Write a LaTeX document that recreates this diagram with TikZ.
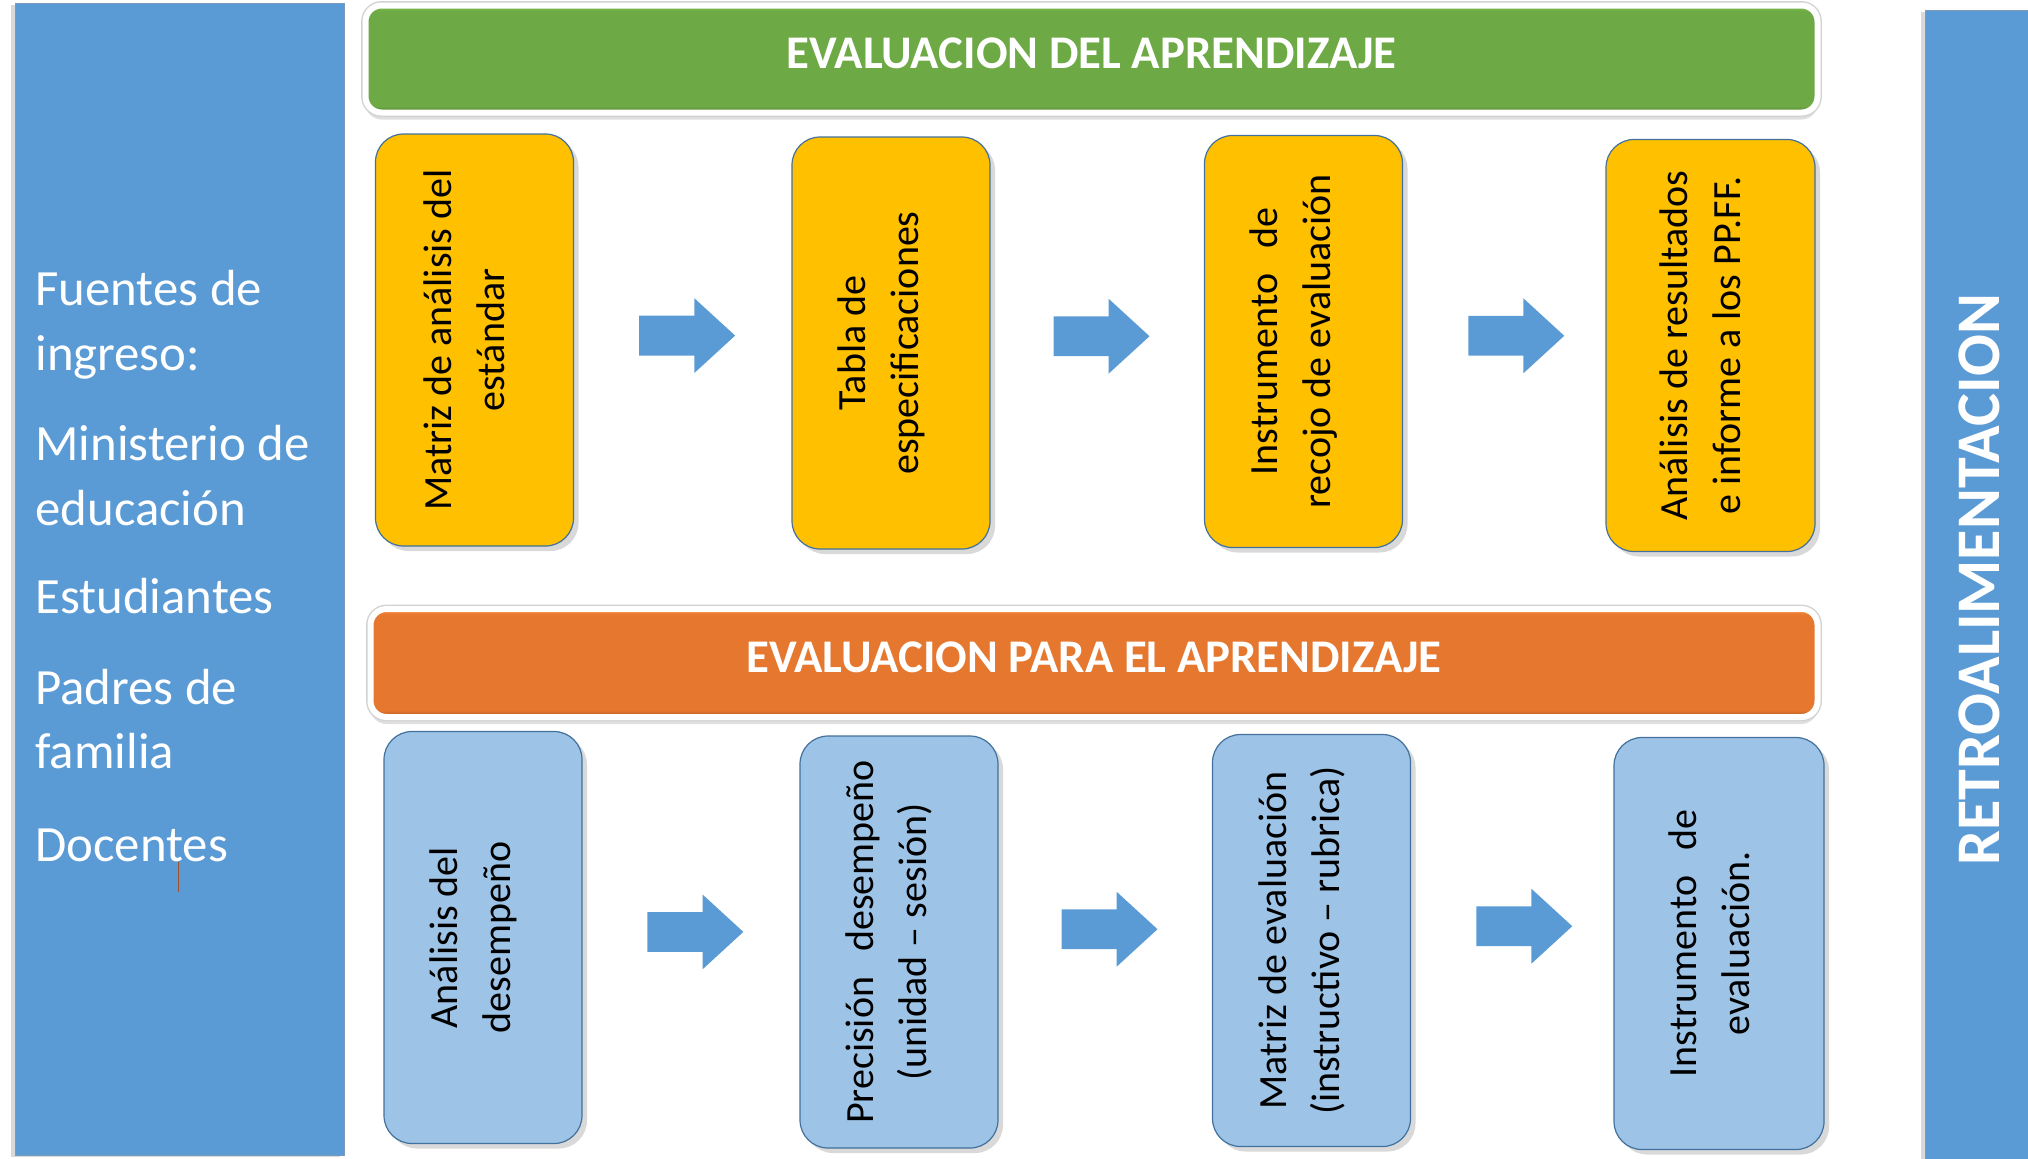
\documentclass[tikz,border=0pt]{standalone}
\usepackage{fontspec}
\setmainfont{Carlito}
\usetikzlibrary{positioning,calc,shapes.arrows,shadows}

\definecolor{panelblue}{HTML}{5B9BD5}
\definecolor{edgeblue}{HTML}{41719C}
\definecolor{boxyellow}{HTML}{FFC000}
\definecolor{boxblue}{HTML}{9DC3E6}
\definecolor{bannergreen}{HTML}{6DA945}
\definecolor{greenlight}{HTML}{7CBD4F}
\definecolor{greendark}{HTML}{4F7F31}
\definecolor{bannerorange}{HTML}{E5772F}
\definecolor{orangelight}{HTML}{F98734}
\definecolor{orangedark}{HTML}{A9561F}
\definecolor{cursorbrown}{HTML}{A0522D}

\pgfdeclareverticalshading{greenbar}{100bp}{color(0bp)=(greendark); color(25bp)=(greendark);
  color(28bp)=(bannergreen); color(72bp)=(bannergreen); color(75bp)=(greenlight); color(100bp)=(greenlight)}
\pgfdeclareverticalshading{orangebar}{100bp}{color(0bp)=(orangedark); color(25bp)=(orangedark);
  color(28bp)=(bannerorange); color(72bp)=(bannerorange); color(75bp)=(orangelight); color(100bp)=(orangelight)}

\tikzset{
  panel/.style={rectangle, fill=panelblue, draw=edgeblue!70, line width=0.4pt,
    inner sep=0pt,
    drop shadow={shadow xshift=-2pt, shadow yshift=-1pt, opacity=0.3}},
  banner/.style={rectangle, rounded corners=8pt, draw=white, line width=3pt,
    minimum width=726pt, minimum height=53.5pt, text=white,
    font=\fontsize{23.4}{27}\selectfont\bfseries, text depth=6pt,
    drop shadow={shadow xshift=0pt, shadow yshift=-3.5pt, opacity=0.25},
    preaction={draw=gray!35, line width=4.4pt}},
  stepbox/.style={rectangle, rounded corners=14pt, draw=edgeblue, line width=0.6pt,
    minimum width=99pt, minimum height=206pt,
    drop shadow={shadow xshift=2.5pt, shadow yshift=-2.5pt, opacity=0.3}},
  ybox/.style={stepbox, fill=boxyellow},
  bbox/.style={stepbox, fill=boxblue},
  steptext/.style={rotate=90, align=center, inner sep=0pt, yshift=5pt,
    font=\fontsize{20}{26.5}\selectfont},
  srctext/.style={anchor=base west, inner sep=0pt, text=white,
    font=\fontsize{25.4}{32}\selectfont},
  blockarrow/.style={single arrow, fill=panelblue, inner xsep=0pt, inner ysep=9.75pt,
    minimum height=48pt, single arrow head extend=8.75pt, single arrow tip angle=85,
    xshift=-6.5pt}
}

\begin{document}
\begin{tikzpicture}[x=0.5pt,y=-0.5pt]
\useasboundingbox (0,0) rectangle (2028,1158);

% side panels
\node[panel, minimum width=164.5pt, minimum height=576pt] (fuentes) at (179.5,579) {};
\node[panel, minimum width=70pt, minimum height=600pt, anchor=north west] (retro) at (1925,10) {};
\node[rotate=90, text=white, font=\fontsize{31}{36}\selectfont\bfseries]
  (retrolbl) at (1979,580) {RETROALIMENTACION};

\node[srctext] (src1) at (35,305) {Fuentes de};
\node[srctext] (src2) at (35,370) {ingreso:};
\node[srctext] (src3) at (35,460) {Ministerio de};
\node[srctext] (src4) at (35,525) {educación};
\node[srctext] (src5) at (35,613) {Estudiantes};
\node[srctext] (src6) at (35,704) {Padres de};
\node[srctext] (src7) at (35,768) {familia};
\node[srctext] (src8) at (35,861) {Docentes};
\draw[cursorbrown, line width=0.8pt] (178.5,862) -- (178.5,892);

% banners
\node[banner, shading=greenbar] (bandel) at (1091.5,59) {EVALUACION DEL APRENDIZAJE};
\node[banner, shading=orangebar, minimum width=723.5pt, minimum height=54pt]
  (banpara) at (1094,663) {EVALUACION PARA EL APRENDIZAJE};

% evaluacion del aprendizaje
\node[ybox] (t1) at (474.5,340) {};
\node[ybox] (t2) at (891,343) {};
\node[ybox] (t3) at (1303.5,341.5) {};
\node[ybox, minimum width=104.5pt] (t4) at (1710.5,345.5) {};

\node[steptext] (t1x) at (t1) {Matriz de análisis del\\estándar};
\node[steptext] (t2x) at (t2) {Tabla de\\especificaciones};
\node[steptext] (t3x) at (t3) {Instrumento\hspace{0.4em} de\\recojo de evaluación};
\node[steptext] (t4x) at (t4) {Análisis de resultados\\e informe a los PP.FF.};

\node[blockarrow, yshift=3pt] (a1) at ($(t1.east)!0.53!(t2.west)$) {};
\node[blockarrow, yshift=3pt] (a2) at ($(t2.east)!0.53!(t3.west)$) {};
\node[blockarrow, yshift=4pt] (a3) at ($(t3.east)!0.57!(t4.west)$) {};

% evaluacion para el aprendizaje
\node[bbox] (b1) at (483,937.5) {};
\node[bbox] (b2) at (899,942) {};
\node[bbox] (b3) at (1311.5,940.5) {};
\node[bbox, minimum width=105pt] (b4) at (1719,943.5) {};

\node[steptext] (b1x) at (b1) {Análisis del\\desempeño};
\node[steptext] (b2x) at (b2) {Precisión\hspace{0.4em} desempeño\\(unidad – sesión)};
\node[steptext] (b3x) at (b3) {Matriz de evaluación\\(instructivo – rubrica)};
\node[steptext] (b4x) at (b4) {Instrumento\hspace{0.4em} de\\evaluación.};

\node[blockarrow, yshift=4pt] (c1) at ($(b1.east)!0.53!(b2.west)$) {};
\node[blockarrow, yshift=6pt] (c2) at ($(b2.east)!0.53!(b3.west)$) {};
\node[blockarrow, yshift=8pt] (c3) at ($(b3.east)!0.57!(b4.west)$) {};

\end{tikzpicture}
\end{document}
